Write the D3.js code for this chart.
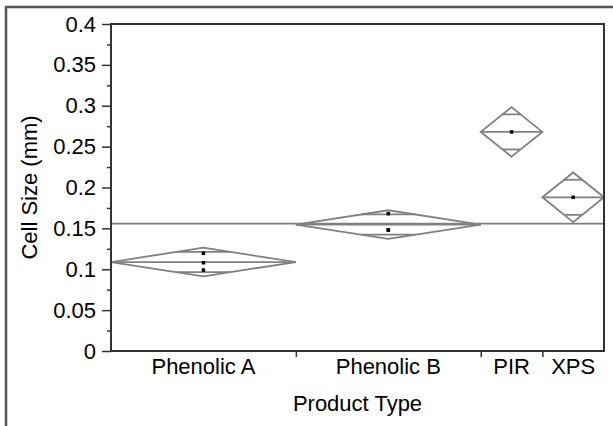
<!DOCTYPE html>
<html>
<head>
<meta charset="utf-8">
<script src="https://cdn.jsdelivr.net/npm/d3@7"></script>
<style>
  html, body { margin: 0; padding: 0; background: #fff; }
  svg { display: block; }
  text { font-family: "Liberation Sans", Arial, sans-serif; fill: #000; }
</style>
</head>
<body>
<svg id="chart" width="613" height="426"></svg>
<script>
// Product types and the measured cell sizes (mm) for each sample
const categories = ["Phenolic A", "Phenolic B", "PIR", "XPS"];
const cellSizes = [
  [0.1195, 0.108, 0.099],
  [0.168, 0.148, 0.148],
  [0.268],
  [0.188]
];
const yTicks = [0, 0.05, 0.1, 0.15, 0.2, 0.25, 0.3, 0.35, 0.4];
const yTickLabels = ["0", "0.05", "0.1", "0.15", "0.2", "0.25", "0.3", "0.35", "0.4"];
const yMinorTicks = [0.025, 0.075, 0.125, 0.175, 0.225, 0.275, 0.325, 0.375];
// two-sided 95% t quantile for the pooled error df (N - k = 4)
const T_CRIT = 2.776;

const svg = d3.select("#chart");
const plot = { left: 111, right: 604, top: 24, bottom: 351 };
const FONT = 22;
const GRAY = "#808080";

// group statistics
const counts = cellSizes.map(v => v.length);
const means = cellSizes.map(v => d3.mean(v));
const N = d3.sum(counts);
const grandMean = d3.sum(cellSizes.flat()) / N;
const sse = d3.sum(cellSizes, (v, i) => d3.sum(v, x => (x - means[i]) ** 2));
const rmse = Math.sqrt(sse / (N - categories.length));
const starts = counts.map((c, i) => d3.sum(counts.slice(0, i)));

// x scale spans cumulative sample counts so each group's width follows its size
const x = d3.scaleLinear().domain([0, N]).range([plot.left, plot.right]);
const y = d3.scaleLinear().domain([0, 0.4]).range([plot.bottom, plot.top]);

// outer frame
svg.append("path")
  .attr("d", `M6,426 V7 H613`)
  .attr("fill", "none").attr("stroke", "#555").attr("stroke-width", 2.5);

// y axis: major and minor ticks
const yAxis = svg.append("g").attr("transform", `translate(${plot.left},0)`)
  .call(d3.axisLeft(y).tickValues(yTicks).tickSize(9).tickPadding(6)
    .tickFormat((d, i) => yTickLabels[i]));
yAxis.select(".domain").remove();
yAxis.selectAll("text").style("font-size", FONT + "px").attr("font-family", null);
yAxis.selectAll("line").attr("stroke", "#333").attr("stroke-width", 1.5);

const yMinor = svg.append("g").attr("transform", `translate(${plot.left},0)`)
  .call(d3.axisLeft(y).tickValues(yMinorTicks).tickSize(4).tickFormat(""));
yMinor.select(".domain").remove();
yMinor.selectAll("line").attr("stroke", "#333").attr("stroke-width", 1.5);

// x axis: ticks at group boundaries, labels centred in each group
const bounds = starts.slice(1);
const xAxis = svg.append("g").attr("transform", `translate(0,${plot.bottom})`)
  .call(d3.axisBottom(x).tickValues(bounds).tickSize(6).tickFormat(""));
xAxis.select(".domain").remove();
xAxis.selectAll("line").attr("stroke", "#333").attr("stroke-width", 1.5);

svg.append("g").selectAll("text").data(categories).join("text")
  .attr("x", (d, i) => x(starts[i] + counts[i] / 2))
  .attr("y", plot.bottom + 23)
  .attr("text-anchor", "middle")
  .style("font-size", FONT + "px")
  .text(d => d);

// axis titles
svg.append("text")
  .attr("x", (plot.left + plot.right) / 2).attr("y", 411)
  .attr("text-anchor", "middle").style("font-size", FONT + "px")
  .text("Product Type");
svg.append("text")
  .attr("transform", `translate(37,${(plot.top + plot.bottom) / 2}) rotate(-90)`)
  .attr("text-anchor", "middle").style("font-size", FONT + "px")
  .text("Cell Size (mm)");

// grand mean line
svg.append("line")
  .attr("x1", plot.left).attr("x2", plot.right)
  .attr("y1", y(grandMean)).attr("y2", y(grandMean))
  .attr("stroke", GRAY).attr("stroke-width", 1.8);

// means diamonds with overlap marks
const groups = svg.append("g").selectAll("g").data(categories).join("g");
groups.each(function (d, i) {
  const g = d3.select(this);
  const x0 = x(starts[i]), x1 = x(starts[i] + counts[i]), xc = (x0 + x1) / 2;
  const ci = T_CRIT * rmse / Math.sqrt(counts[i]);
  const m = means[i];
  g.append("path")
    .attr("d", `M${x0},${y(m)} L${xc},${y(m + ci)} L${x1},${y(m)} L${xc},${y(m - ci)} Z`)
    .attr("fill", "none").attr("stroke", GRAY).attr("stroke-width", 1.8)
    .attr("stroke-linejoin", "miter");
  g.append("line")
    .attr("x1", x0).attr("x2", x1).attr("y1", y(m)).attr("y2", y(m))
    .attr("stroke", GRAY).attr("stroke-width", 1.8);
  const ov = ci / Math.SQRT2;
  const hw = (x1 - x0) / 2 * (1 - 1 / Math.SQRT2);
  [m + ov, m - ov].forEach(v => {
    g.append("line")
      .attr("x1", xc - hw).attr("x2", xc + hw).attr("y1", y(v)).attr("y2", y(v))
      .attr("stroke", GRAY).attr("stroke-width", 1.8);
  });
  g.selectAll("rect").data(cellSizes[i]).join("rect")
    .attr("x", xc - 1.75).attr("y", v => y(v) - 1.75)
    .attr("width", 3.5).attr("height", 3.5).attr("fill", "#000");
});

// plot frame
svg.append("rect")
  .attr("x", plot.left).attr("y", plot.top)
  .attr("width", plot.right - plot.left).attr("height", plot.bottom - plot.top)
  .attr("fill", "none").attr("stroke", "#333").attr("stroke-width", 2);
</script>
</body>
</html>
